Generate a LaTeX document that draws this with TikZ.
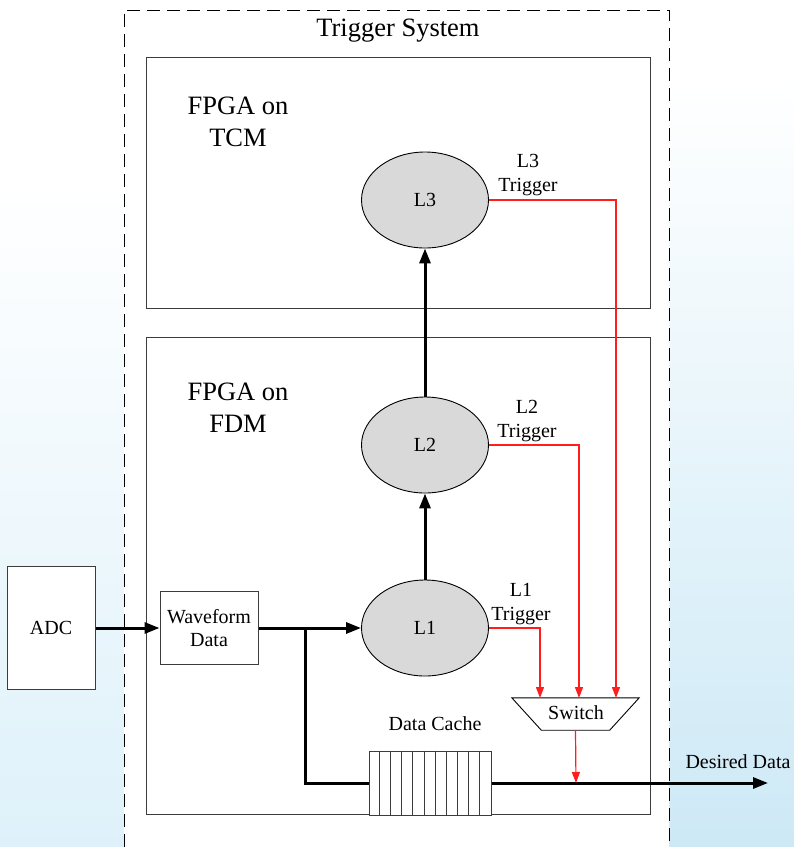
\documentclass[tikz,border=0pt]{standalone}
\usepackage{fontspec}
\setmainfont{Liberation Serif}
\usetikzlibrary{shapes.geometric,arrows.meta,calc}
\definecolor{fillgray}{RGB}{217,217,217}
\definecolor{wmblue}{RGB}{205,233,246}
\definecolor{wmblueL}{RGB}{222,241,250}
\definecolor{boxline}{RGB}{60,60,60}
\definecolor{trigred}{RGB}{255,30,30}
\begin{document}
\begin{tikzpicture}[x=1pt,y=-1pt,
  every node/.style={font=\fontsize{20}{23}\selectfont},
  bigtext/.style={font=\fontsize{26.5}{32}\selectfont, align=center},
  smalltext/.style={font=\fontsize{20}{24}\selectfont, align=center},
  frame/.style={draw=black, line width=1pt, dash pattern=on 13pt off 7pt},
  fpgabox/.style={draw=boxline, line width=1pt, fill=white, inner sep=0pt},
  plainbox/.style={draw=boxline, line width=1pt, fill=white, inner sep=0pt, align=center},
  level/.style={ellipse, draw=black, line width=0.9pt, fill=fillgray, minimum width=127pt, minimum height=96pt, inner sep=0pt},
  bus/.style={draw=black, line width=3pt},
  busarrow/.style={bus, -{Triangle[length=15pt,width=11pt]}},
  trig/.style={draw=trigred, line width=1.2pt, -{Triangle[length=11pt,width=8pt]}},
  switchbox/.style={minimum width=127pt, minimum height=32pt, inner sep=0pt},
  switchedge/.style={draw=black, line width=0.9pt, fill=white, line join=miter}
]
\useasboundingbox (0,0) rectangle (794,847);
% background and watermark
\fill[white] (0,0) rectangle (794,847);
\shade[top color=white, bottom color=wmblue] (669,80) rectangle (794,847);
\shade[top color=white, bottom color=wmblueL] (0,180) rectangle (124,847);
\fill[white] (124,10) rectangle (669,847);
% dashed frame of the trigger system
\draw[frame] (124,847) -- (124,10) -- (669,10) -- (669,847);
\node[bigtext] (title) at (398,31) {Trigger System};
% FPGA boxes
\node[fpgabox, minimum width=504pt, minimum height=251pt] (tcm) at (398,182.5) {};
\node[fpgabox, minimum width=504pt, minimum height=477pt] (fdm) at (398,575.5) {};
\node[bigtext] (tcmlabel) at (238,122) {FPGA on\\TCM};
\node[bigtext] (fdmlabel) at (238,408) {FPGA on\\FDM};
% trigger levels
\node[level] (L3) at (425,200) {L3};
\node[level] (L2) at (425,445) {L2};
\node[level] (L1) at (425,628) {L1};
\node[smalltext] (t3) at (528,175) {L3\\Trigger};
\node[smalltext] (t2) at (527,421) {L2\\Trigger};
\node[smalltext] (t1) at (521,604) {L1\\Trigger};
% ADC and waveform data
\node[plainbox, minimum width=88pt, minimum height=123pt] (adc) at (51,628) {ADC};
\node[plainbox, minimum width=98pt, minimum height=73pt] (wf) at (209,628) {Waveform\\Data};
% switch
\node[switchbox] (sw) at (575.5,714) {};
\draw[switchedge] (sw.north west) -- (sw.north east) -- ($(sw.south east)+(-29.5,0)$) -- ($(sw.south west)+(29.5,0)$) -- cycle;
\node (swtext) at (576,713) {Switch};
% data cache
\node[plainbox, minimum width=122pt, minimum height=64pt] (cache) at (430,783) {};
\foreach \i in {1,...,10} {
  \draw[boxline, line width=0.9pt] ($(cache.north west)+(\i*122/11,0)$) -- ($(cache.south west)+(\i*122/11,0)$);
}
\node (cachelabel) at (435,724) {Data Cache};
\node (desired) at (738,762) {Desired Data};
% coordinates
\coordinate (br) at (305,628);
\coordinate (in1) at (540,698);
\coordinate (in2) at (579,698);
\coordinate (in3) at (616,698);
\coordinate (swout) at (576,783);
\coordinate (out) at (768,783);
% connectors
\draw[busarrow] (adc.east) -- (wf.west);
\draw[busarrow] (wf.east) -- (L1.west);
\draw[bus] (br) |- (cache.west);
\draw[busarrow] (cache.east) -- (out);
\draw[busarrow] (L1.north) -- (L2.south);
\draw[busarrow] (L2.north) -- (L3.south);
\draw[trig] (L1.east) -| (in1);
\draw[trig] (L2.east) -| (in2);
\draw[trig] (L3.east) -| (in3);
\draw[trig] (sw.south) -- (swout);
\end{tikzpicture}
\end{document}
